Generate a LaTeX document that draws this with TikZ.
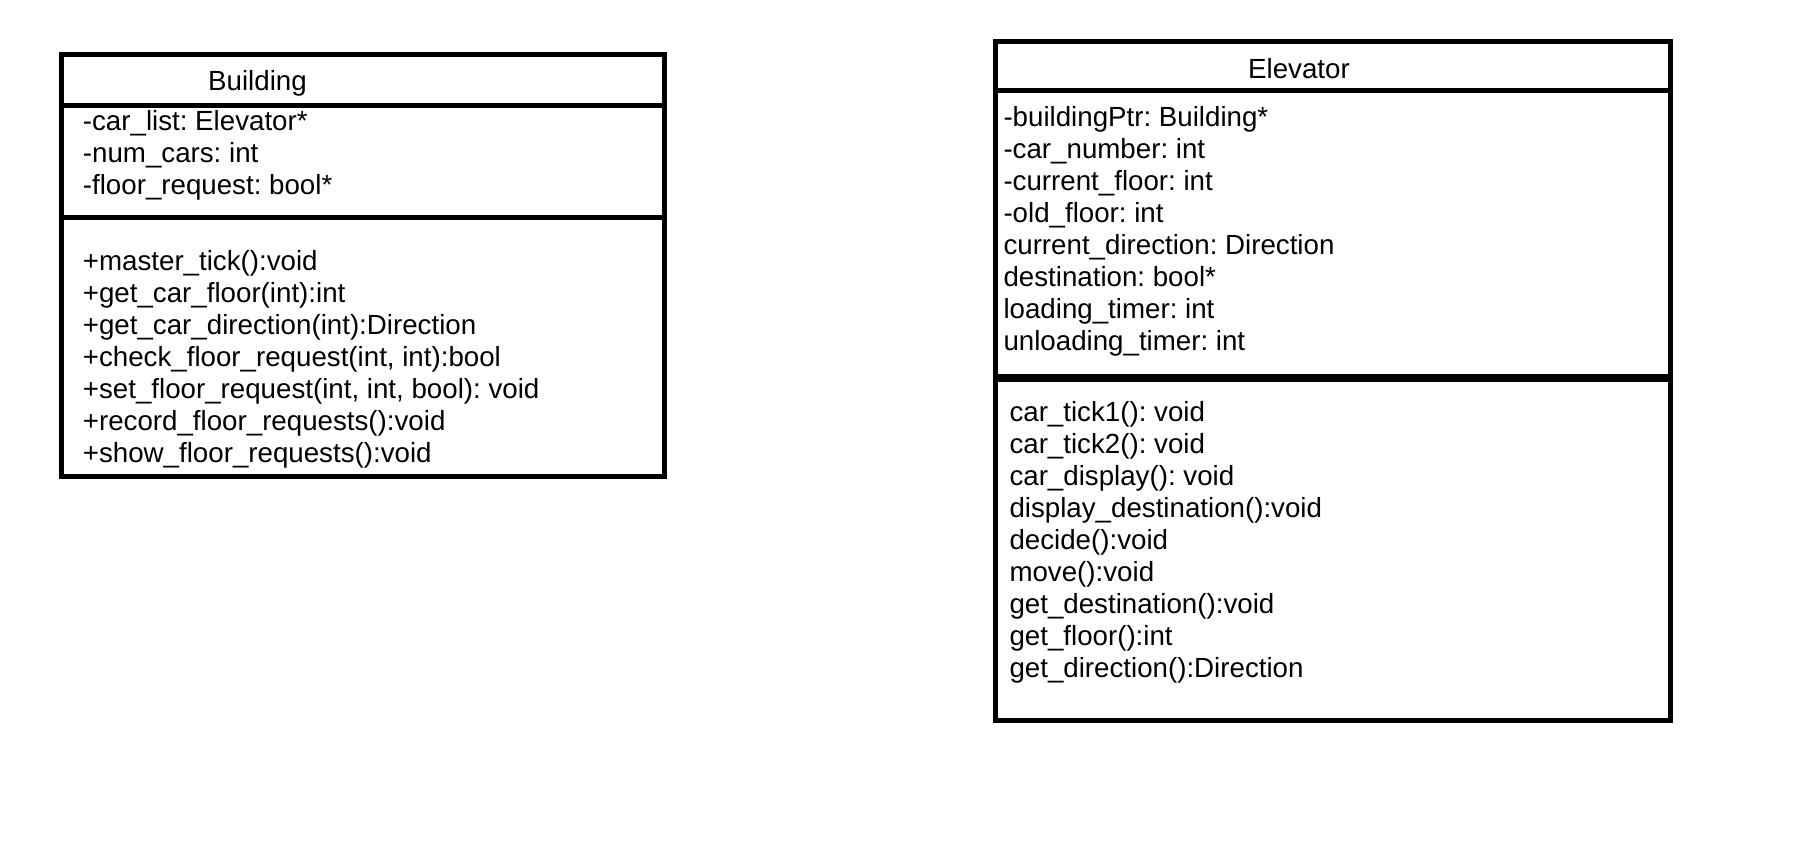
\documentclass[tikz,border=0pt]{standalone}
\usepackage{fontspec}
\setmainfont{Liberation Sans}
\usetikzlibrary{positioning}
\frenchspacing

\begin{document}
\begin{tikzpicture}[x=1pt, y=-1pt,
    every node/.style = {font=\fontsize{27.7}{32}\selectfont},
    compart/.style = {
      draw,
      rectangle,
      line width = 5pt,
      inner sep = 0pt,
      outer sep = 0pt
    },
    member/.style = {
      anchor = base west,
      inner sep = 0pt
    }
  ]
  \useasboundingbox (0,0) rectangle (1818,860);

  % Building
  \node[compart, minimum width=603pt, minimum height=51pt, anchor=north west] (bTitle) at (61,54) {};
  \node[compart, minimum width=603pt, minimum height=112.5pt, below=0pt of bTitle] (bAttr) {};
  \node[compart, minimum width=603pt, minimum height=258.5pt, below=0pt of bAttr] (bOps) {};

  \node[member] (bName) at (208,90) {Building};
  \foreach \txt [count=\i] in {-car\_list: Elevator*, -num\_cars: int, -floor\_request: bool*}
    \node[member] (bA\i) at (82.7,{130.7+32*\i-32}) {\txt};
  \foreach \txt [count=\i] in {+master\_tick():void, +get\_car\_floor(int):int,
      +get\_car\_direction(int):Direction, {+check\_floor\_request(int, int):bool},
      {+set\_floor\_request(int, int, bool): void}, +record\_floor\_requests():void,
      +show\_floor\_requests():void}
    \node[member] (bM\i) at (82.7,{270.7+32*\i-32}) {\txt};

  % Elevator
  \node[compart, minimum width=675pt, minimum height=49.5pt, anchor=north west] (eTitle) at (995,41) {};
  \node[compart, minimum width=675pt, minimum height=286pt, below=0pt of eTitle] (eAttr) {};
  \node[compart, minimum width=675pt, minimum height=341pt, below=3pt of eAttr] (eOps) {};

  \node[member] (eName) at (1248,78.3) {Elevator};
  \foreach \txt [count=\i] in {-buildingPtr: Building*, -car\_number: int, -current\_floor: int,
      -old\_floor: int, current\_direction: Direction, destination: bool*,
      loading\_timer: int, unloading\_timer: int}
    \node[member] (eA\i) at (1003.3,{126+32*\i-32}) {\txt};
  \foreach \txt [count=\i] in {car\_tick1(): void, car\_tick2(): void, car\_display(): void,
      display\_destination():void, decide():void, move():void,
      get\_destination():void, get\_floor():int, get\_direction():Direction}
    \node[member] (eM\i) at (1009.3,{421.7+32*\i-32}) {\txt};
\end{tikzpicture}
\end{document}
